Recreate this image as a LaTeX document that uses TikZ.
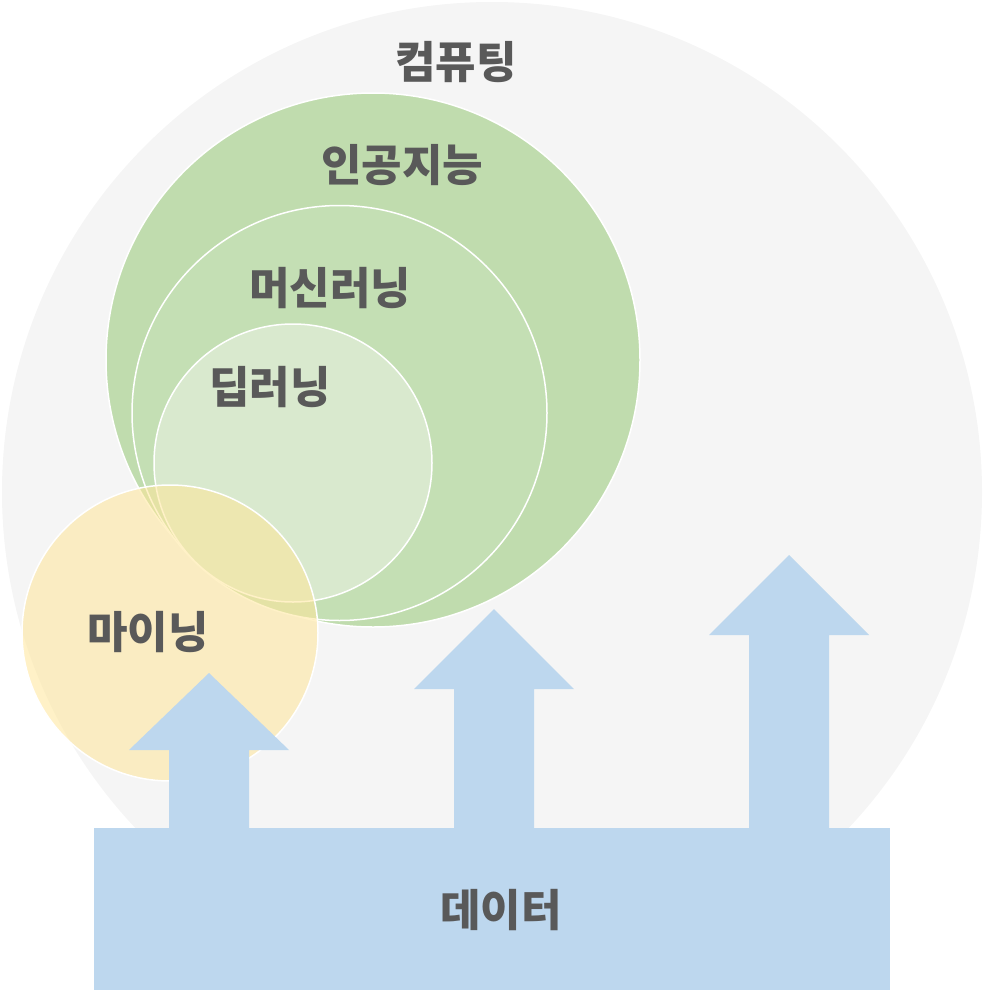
\documentclass[tikz,border=0pt]{standalone}
\usepackage{fontspec}
\setmainfont{Noto Sans CJK KR}
\definecolor{bggray}{HTML}{F5F5F5}
\definecolor{aigreen}{HTML}{C0DCAE}
\definecolor{mlgreen}{HTML}{C4DFB4}
\definecolor{dlgreen}{HTML}{D9E9CE}
\definecolor{mineyel}{HTML}{FFE699}
\definecolor{datablue}{HTML}{BDD7EE}
\definecolor{txtgray}{HTML}{595959}
\tikzset{
  ring/.style={draw=white, line width=1.5pt},
  lbl/.style={text=txtgray, font=\fontsize{44}{46}\selectfont\bfseries, inner sep=0pt},
  uparrow/.style={fill=datablue, draw=none}
}
\begin{document}
\begin{tikzpicture}[x=1pt,y=-1pt]
\useasboundingbox (0,0) rectangle (984,990);
\begin{scope}
\clip (0,0) rectangle (984,990);
\fill[bggray] (492,492) circle (490);
\end{scope}
\filldraw[ring, fill=aigreen] (373,360) circle (267);
\filldraw[ring, fill=mlgreen] (339.5,413) circle (207.5);
\filldraw[ring, fill=dlgreen] (293,463) circle (139);
\fill[mineyel, fill opacity=0.55] (170,633) circle (148);
\draw[ring] (170,633) circle (148);
% arrows
\fill[uparrow] (209,673) -- (289,750) -- (249,750) -- (249,830) -- (169,830) -- (169,750) -- (129,750) -- cycle;
\fill[uparrow] (494,609) -- (574,689) -- (534,689) -- (534,830) -- (454,830) -- (454,689) -- (414,689) -- cycle;
\fill[uparrow] (789,555) -- (869,635) -- (829,635) -- (829,830) -- (749,830) -- (749,635) -- (709,635) -- cycle;
\node[fill=datablue, minimum width=796pt, minimum height=162pt, inner sep=0pt, anchor=north west] (data) at (94,828) {};
\node[lbl] (datat) at (501,910) {데이터};
\node[lbl] (comp) at (456,62) {컴퓨팅};
\node[lbl] (ai) at (402,165) {인공지능};
\node[lbl] (ml) at (330,288) {머신러닝};
\node[lbl] (dl) at (270,387) {딥러닝};
\node[lbl] (mine) at (148,632) {마이닝};
\end{tikzpicture}
\end{document}
